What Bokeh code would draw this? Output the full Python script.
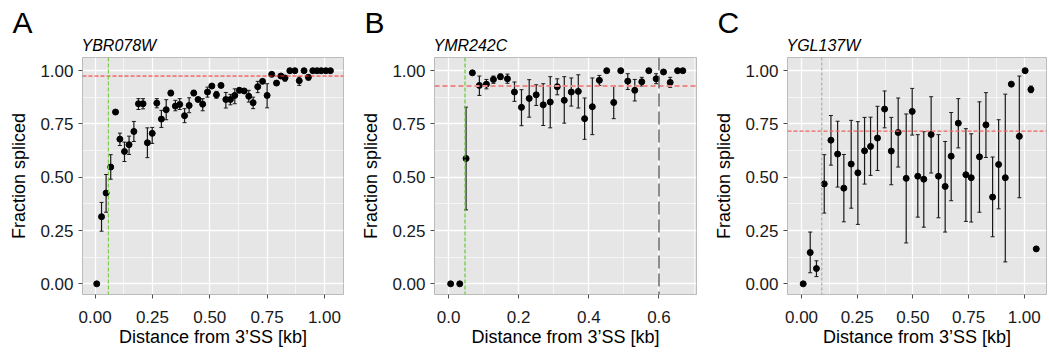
from bokeh.plotting import figure
from bokeh.layouts import row
from bokeh.models import (ColumnDataSource, Range1d, FixedTicker, Whisker, TeeHead,
                          Span, Title)
from bokeh.embed import file_html
from bokeh.resources import INLINE

FONT = "Liberation Sans"

# ---------------- data ----------------
panel_letters = ["A", "B", "C"]
gene_names = ["YBR078W", "YMR242C", "YGL137W"]
x_label = "Distance from 3\u2019SS [kb]"
y_label = "Fraction spliced"

y_ticks = [0.0, 0.25, 0.5, 0.75, 1.0]
y_tick_labels = ["0.00", "0.25", "0.50", "0.75", "1.00"]
y_minor = [0.125, 0.375, 0.625, 0.875]

A_x_ticks = [0.0, 0.25, 0.5, 0.75, 1.0]
A_x_tick_labels = ["0.00", "0.25", "0.50", "0.75", "1.00"]
A_x_minor = [0.125, 0.375, 0.625, 0.875]
B_x_ticks = [0.0, 0.2, 0.4, 0.6]
B_x_tick_labels = ["0.0", "0.2", "0.4", "0.6"]
B_x_minor = [0.1, 0.3, 0.5, 0.7]
C_x_ticks = [0.0, 0.25, 0.5, 0.75, 1.0]
C_x_tick_labels = ["0.00", "0.25", "0.50", "0.75", "1.00"]
C_x_minor = [0.125, 0.375, 0.625, 0.875]

A_x = [0.007, 0.028, 0.048, 0.068, 0.089, 0.108, 0.128, 0.148, 0.169, 0.189, 0.209, 0.228, 0.249,
       0.269, 0.289, 0.310, 0.330, 0.350, 0.369, 0.390, 0.410, 0.430, 0.449, 0.469, 0.490, 0.509,
       0.529, 0.549, 0.570, 0.590, 0.609, 0.629, 0.650, 0.670, 0.689, 0.709, 0.730, 0.750, 0.770,
       0.791, 0.810, 0.828, 0.849, 0.871, 0.890, 0.911, 0.930, 0.949, 0.968, 0.986, 1.006, 1.026]
A_y = [0.000, 0.315, 0.426, 0.548, 0.806, 0.679, 0.621, 0.653, 0.715, 0.845, 0.845, 0.662, 0.706,
       0.848, 0.773, 0.817, 0.895, 0.834, 0.842, 0.789, 0.837, 0.895, 0.865, 0.843, 0.900, 0.928,
       0.887, 0.931, 0.865, 0.865, 0.884, 0.908, 0.905, 0.880, 0.850, 0.925, 0.950, 0.884, 0.983,
       0.942, 0.975, 0.966, 1.000, 1.000, 0.953, 1.000, 0.969, 1.000, 1.000, 1.000, 1.000, 1.000]
A_lo = [None, 0.247, 0.336, 0.491, None, 0.649, 0.574, 0.607, 0.668, 0.818, 0.821, 0.592, 0.659,
        0.826, 0.734, 0.770, 0.883, 0.812, 0.818, 0.756, 0.803, 0.883, None, 0.812, 0.876, None,
        0.871, None, 0.825, 0.840, 0.845, 0.897, None, 0.853, 0.822, 0.897, None, 0.826, None,
        None, None, 0.951, None, None, 0.931, None, 0.956, None, None, None, None, None]
A_hi = [None, 0.382, 0.513, 0.606, None, 0.707, 0.665, 0.693, 0.762, 0.869, 0.869, 0.732, 0.734,
        0.869, 0.814, 0.864, 0.908, 0.861, 0.869, 0.822, 0.873, 0.908, None, 0.869, 0.923, None,
        0.903, None, 0.898, 0.889, 0.915, 0.919, None, 0.908, 0.876, 0.950, None, 0.939, None,
        None, None, 0.975, None, None, 0.970, None, 0.980, None, None, None, None, None]

B_x = [0.006, 0.032, 0.050, 0.068, 0.088, 0.108, 0.128, 0.148, 0.168, 0.188, 0.208, 0.230, 0.250,
       0.270, 0.290, 0.310, 0.330, 0.350, 0.370, 0.388, 0.410, 0.430, 0.451, 0.471, 0.491, 0.511,
       0.531, 0.551, 0.571, 0.592, 0.613, 0.632, 0.653, 0.668]
B_y = [0.000, 0.000, 0.588, 0.990, 0.931, 0.937, 0.959, 0.972, 0.962, 0.900, 0.828, 0.870, 0.887,
       0.840, 0.853, 0.925, 0.861, 0.900, 0.903, 0.775, 0.831, 0.955, 1.000, 0.851, 1.000, 0.951,
       0.908, 0.948, 1.000, 0.962, 0.994, 0.945, 1.000, 1.000]
B_lo = [None, None, 0.347, None, 0.884, 0.915, 0.941, 0.959, 0.941, 0.856, 0.742, 0.782, 0.837,
        0.743, 0.732, 0.887, 0.754, 0.834, 0.825, 0.678, 0.700, 0.931, None, 0.775, None, 0.912,
        0.858, 0.928, None, 0.939, None, 0.922, None, None]
B_hi = [None, None, 0.829, None, 0.975, 0.959, 0.975, 0.984, 0.984, 0.947, 0.911, 0.958, 0.934,
        0.939, 0.972, 0.962, 0.972, 0.966, 0.981, 0.872, 0.966, 0.978, None, 0.928, None, 0.986,
        0.959, 0.969, None, 0.986, None, 0.969, None, None]

C_x = [0.0075, 0.039, 0.067, 0.102, 0.132, 0.162, 0.190, 0.223, 0.253, 0.283, 0.310, 0.341, 0.373,
       0.403, 0.434, 0.470, 0.497, 0.522, 0.549, 0.582, 0.615, 0.645, 0.672, 0.704, 0.738, 0.762,
       0.799, 0.828, 0.858, 0.885, 0.915, 0.942, 0.978, 1.004, 1.030, 1.054]
C_y = [0.000, 0.147, 0.072, 0.469, 0.674, 0.609, 0.449, 0.562, 0.521, 0.624, 0.645, 0.684, 0.820,
       0.623, 0.710, 0.495, 0.809, 0.505, 0.491, 0.701, 0.505, 0.457, 0.599, 0.754, 0.512, 0.498,
       0.596, 0.746, 0.407, 0.560, 0.498, 0.937, 0.692, 1.000, 0.912, 0.164]
C_lo = [None, 0.052, 0.034, 0.332, 0.557, 0.454, 0.291, 0.355, 0.279, 0.468, 0.509, 0.532, 0.732,
        0.465, 0.548, 0.192, 0.698, 0.313, 0.266, 0.520, 0.310, 0.243, 0.390, 0.638, 0.293, 0.290,
        0.336, 0.593, 0.221, 0.352, 0.103, None, 0.404, None, 0.897, None]
C_hi = [None, 0.243, 0.108, 0.606, 0.790, 0.763, 0.607, 0.767, 0.761, 0.781, 0.782, 0.833, 0.905,
        0.781, 0.872, 0.797, 0.917, 0.700, 0.714, 0.878, 0.700, 0.668, 0.804, 0.869, 0.728, 0.704,
        0.854, 0.897, 0.595, 0.770, 0.890, None, 0.975, None, 0.928, None]

A_red = 0.975
A_green = 0.058
B_red = 0.928
B_green = 0.047
B_black = 0.60
C_red = 0.717
C_green = 0.091

# ---------------- layout settings ----------------
FIG_H = 351
TOP = 57
BOTTOM = 57
Y_RANGE = (-0.05, 1.062)


def make_panel(letter, gene, xs, ys, los, his, xr, xticks, xlabels, xminor,
               width, left, right, hlines, vlines):
    p = figure(width=width, height=FIG_H, x_range=Range1d(*xr), y_range=Range1d(*Y_RANGE),
               output_backend="svg", toolbar_location=None,
               min_border_left=left, min_border_right=right,
               min_border_top=TOP, min_border_bottom=BOTTOM)
    p.background_fill_color = "#E6E6E6"
    p.border_fill_color = "white"
    p.outline_line_color = "#BBBBBB"
    p.outline_line_width = 1

    # outer title: panel letter
    p.title.text = letter
    p.title.text_font = FONT
    p.title.text_font_style = "normal"
    p.title.text_font_size = "30px"
    p.title.text_color = "black"
    p.title.align = "left"
    p.title.offset = -70
    p.title.standoff = -15

    # inner title: gene name
    p.add_layout(Title(text=gene, text_font=FONT, text_font_style="italic",
                       text_font_size="16px", text_color="black", align="left",
                       offset=-1, standoff=7), "above")

    p.xaxis.ticker = FixedTicker(ticks=xticks, minor_ticks=xminor)
    p.xaxis.major_label_overrides = {t: l for t, l in zip(xticks, xlabels)}
    p.yaxis.ticker = FixedTicker(ticks=y_ticks, minor_ticks=y_minor)
    p.yaxis.major_label_overrides = {t: l for t, l in zip(y_ticks, y_tick_labels)}
    for ax in (p.xaxis, p.yaxis):
        ax.axis_line_color = None
        ax.major_tick_in = 0
        ax.major_tick_out = 4
        ax.major_tick_line_color = "#4D4D4D"
        ax.minor_tick_in = 0
        ax.minor_tick_out = 0
        ax.minor_tick_line_color = None
        ax.major_label_text_font = FONT
        ax.major_label_text_font_size = "17px"
        ax.major_label_text_color = "#1A1A1A"
        ax.axis_label_text_font = FONT
        ax.axis_label_text_font_size = "18px"
        ax.axis_label_text_font_style = "normal"
        ax.axis_label_text_color = "black"
    p.xaxis.major_label_standoff = 12
    p.xaxis.axis_label = x_label
    p.xaxis.axis_label_standoff = 1
    p.yaxis.major_label_standoff = 5
    p.yaxis.axis_label = y_label
    p.yaxis.axis_label_standoff = 8

    for g in (p.xgrid, p.ygrid):
        g.grid_line_color = "white"
        g.grid_line_width = 1.3
        g.minor_grid_line_color = "white"
        g.minor_grid_line_width = 0.6

    for loc, color, width_, dash in hlines:
        p.add_layout(Span(location=loc, dimension="width", line_color=color,
                          line_width=width_, line_dash=dash))
    for loc, color, width_, dash in vlines:
        p.add_layout(Span(location=loc, dimension="height", line_color=color,
                          line_width=width_, line_dash=dash))

    ex = [x for x, lo in zip(xs, los) if lo is not None]
    elo = [lo for lo in los if lo is not None]
    ehi = [hi for hi in his if hi is not None]
    esrc = ColumnDataSource(data=dict(x=ex, lower=elo, upper=ehi))
    p.add_layout(Whisker(source=esrc, base="x", lower="lower", upper="upper",
                         line_color="#1A1A1A", line_width=1.2,
                         upper_head=TeeHead(size=4, line_color="#1A1A1A", line_width=1),
                         lower_head=TeeHead(size=4, line_color="#1A1A1A", line_width=1)))

    src = ColumnDataSource(data=dict(x=xs, y=ys))
    p.scatter("x", "y", source=src, size=6, color="black")
    return p


pA = make_panel(panel_letters[0], gene_names[0], A_x, A_y, A_lo, A_hi, (-0.055, 1.083),
                A_x_ticks, A_x_tick_labels, A_x_minor, 352, 82, 9,
                [(A_red, "#FF2A2A", 1, "4 2")],
                [(A_green, "#7ACC4A", 1.2, "4 2")])
pB = make_panel(panel_letters[1], gene_names[1], B_x, B_y, B_lo, B_hi, (-0.040, 0.707),
                B_x_ticks, B_x_tick_labels, B_x_minor, 352, 82, 8,
                [(B_red, "#F08A8A", 2, "5 3")],
                [(B_green, "#5FCC30", 1.2, "4 2"), (B_black, "#555555", 1.3, "13 5")])
pC = make_panel(panel_letters[2], gene_names[2], C_x, C_y, C_lo, C_hi, (-0.063, 1.100),
                C_x_ticks, C_x_tick_labels, C_x_minor, 344, 83, 2,
                [(C_red, "#F06464", 1.2, "4 2")],
                [(C_green, "#8AAE86", 1, "3 2")])

layout = row(pA, pB, pC, spacing=0)
open("out.html", "w").write(file_html(layout, INLINE))
